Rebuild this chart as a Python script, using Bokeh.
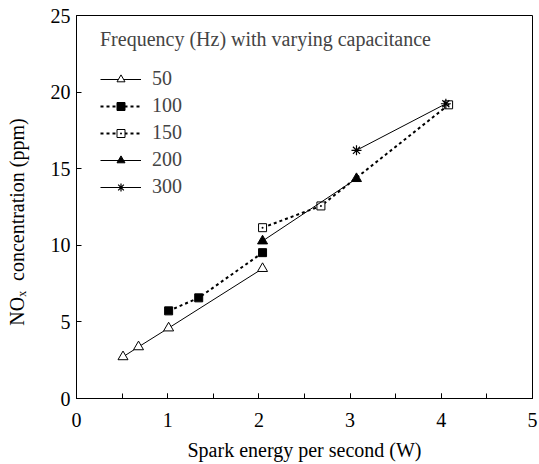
from bokeh.plotting import figure
from bokeh.models import Range1d, SingleIntervalTicker, Legend, LegendItem
from bokeh.embed import file_html
from bokeh.resources import INLINE

# Data
x_50 = [0.51, 0.68, 1.01, 2.04]
y_50 = [2.72, 3.37, 4.60, 8.48]
x_100 = [1.01, 1.34, 2.04]
y_100 = [5.72, 6.57, 9.52]
x_150 = [2.04, 2.68, 4.08]
y_150 = [11.15, 12.57, 19.17]
x_200 = [2.04, 3.07]
y_200 = [10.28, 14.35]
x_300 = [3.07, 4.05]
y_300 = [16.20, 19.24]
series_names = ["50", "100", "150", "200", "300"]
legend_title = "Frequency (Hz) with varying capacitance"
x_label = "Spark energy per second (W)"
y_label = "NO\u2093\u00a0\u00a0concentration (ppm)" + "\u00a0" * 6

FONT = "Liberation Serif"

p = figure(width=539, height=464, x_range=Range1d(0, 5), y_range=Range1d(0, 25),
           output_backend="svg", toolbar_location=None,
           min_border_left=76, min_border_right=7, min_border_top=15, min_border_bottom=66)
p.grid.visible = False
p.outline_line_color = "black"
p.outline_line_width = 1

p.xaxis.ticker = SingleIntervalTicker(interval=1, num_minor_ticks=2)
p.yaxis.ticker = SingleIntervalTicker(interval=5, num_minor_ticks=0)
for ax in (p.xaxis[0], p.yaxis[0]):
    ax.major_tick_in = 5
    ax.major_tick_out = 0
    ax.minor_tick_in = 5
    ax.minor_tick_out = 0
    ax.axis_line_color = "black"
    ax.major_tick_line_color = "black"
    ax.minor_tick_line_color = "black"
    ax.major_label_text_font = FONT
    ax.major_label_text_font_size = "20px"
    ax.major_label_text_color = "black"
    ax.axis_label_text_font = FONT
    ax.axis_label_text_font_size = "20px"
    ax.axis_label_text_font_style = "normal"
    ax.axis_label_text_color = "black"
p.yaxis.minor_tick_line_color = None
p.xaxis.major_label_standoff = 14
p.yaxis.major_label_standoff = 6
p.xaxis.axis_label = x_label
p.xaxis.axis_label_standoff = 9
p.yaxis.axis_label = y_label
p.yaxis.axis_label_standoff = 20

# series
r50l = p.line(x_50, y_50, line_color="black", line_width=1)
r50m = p.scatter(x_50, y_50, marker="triangle", size=10, line_color="black", fill_color="white", line_width=1)
r100l = p.line(x_100, y_100, line_color="black", line_width=2, line_dash="3 3")
r100m = p.scatter(x_100, y_100, marker="square", size=8, line_color="black", fill_color="black")
r150l = p.line(x_150, y_150, line_color="black", line_width=2, line_dash="3 3")
r150m = p.scatter(x_150, y_150, marker="square_dot", size=8, line_color="black", fill_color="white", line_width=1)
r200l = p.line(x_200, y_200, line_color="black", line_width=1)
r200m = p.scatter(x_200, y_200, marker="triangle", size=10, line_color="black", fill_color="black")
r300l = p.line(x_300, y_300, line_color="black", line_width=1)
r300m = p.scatter(x_300, y_300, marker="asterisk", size=10, line_color="black", line_width=1.2)

items = [
    LegendItem(label=series_names[0], renderers=[r50l, r50m]),
    LegendItem(label=series_names[1], renderers=[r100l, r100m]),
    LegendItem(label=series_names[2], renderers=[r150l, r150m]),
    LegendItem(label=series_names[3], renderers=[r200l, r200m]),
    LegendItem(label=series_names[4], renderers=[r300l, r300m]),
]
legend = Legend(items=items, title=legend_title, location=(24, 200),
                title_text_font=FONT, title_text_font_size="20px", title_text_font_style="normal",
                title_standoff=16,
                label_text_font=FONT, label_text_font_size="20px",
                glyph_width=41, glyph_height=20, label_height=20, spacing=4, padding=4,
                label_standoff=11, margin=0,
                border_line_color=None, background_fill_alpha=0)
p.add_layout(legend)

open("out.html", "w").write(file_html(p, INLINE))
